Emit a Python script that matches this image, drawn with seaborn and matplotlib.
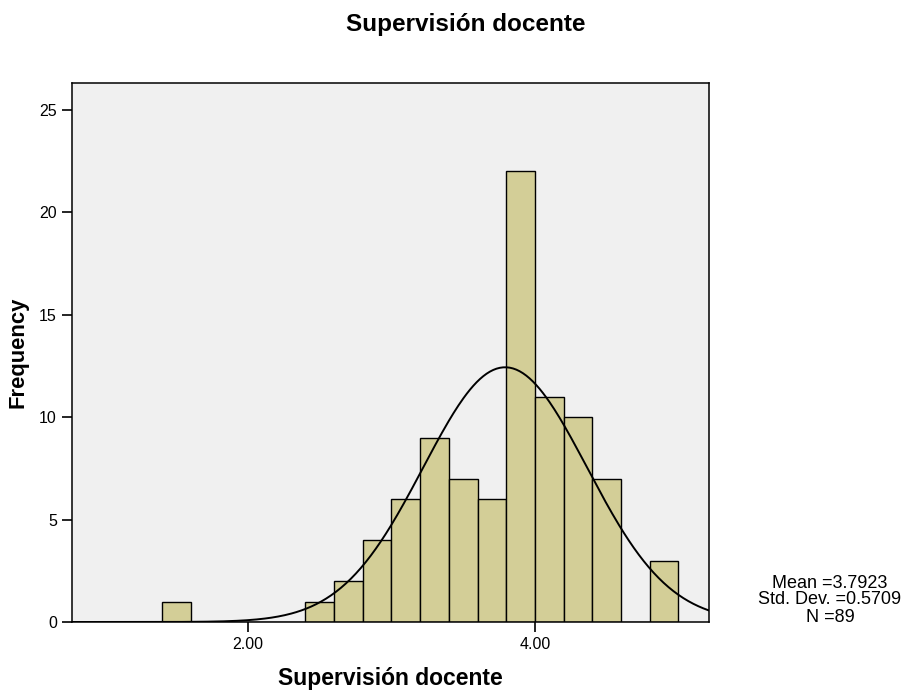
import numpy as np
import pandas as pd
import matplotlib
matplotlib.use("Agg")
import matplotlib.pyplot as plt
import seaborn as sns

# Data
bin_left = [1.4, 1.6, 1.8, 2.0, 2.2, 2.4, 2.6, 2.8, 3.0, 3.2, 3.4, 3.6, 3.8, 4.0, 4.2, 4.4, 4.6, 4.8]
counts   = [1,   0,   0,   0,   0,   1,   2,   4,   6,   9,   7,   6,   22,  11,  10,  7,   0,   3]
bin_width = 0.2
mean_val = 3.7923
sd_val = 0.5709
n_val = 89
x_ticks = [2.0, 4.0]
x_tick_labels = ["2.00", "4.00"]
y_ticks = [0, 5, 10, 15, 20, 25]

sns.set_style("white")
plt.rcParams['font.family'] = ['Liberation Sans', 'DejaVu Sans']
plt.rcParams['text.color'] = 'black'
plt.rcParams['axes.labelcolor'] = 'black'
plt.rcParams['xtick.color'] = 'black'
plt.rcParams['ytick.color'] = 'black'

W, H = 907, 698
L, R, T, B = 72, 709, 83, 622
fig = plt.figure(figsize=(W/100, H/100), dpi=100)
ax = fig.add_axes([L/W, 1 - B/H, (R-L)/W, (B-T)/H])
ax.set_facecolor('#F0F0F0')

df = pd.DataFrame({"mid": np.array(bin_left) + bin_width/2, "count": counts})
edges = list(bin_left) + [bin_left[-1] + bin_width]
sns.histplot(data=df, x="mid", weights="count", bins=edges, ax=ax,
             color='#D3CE97', alpha=1, edgecolor='black', linewidth=1.0)

xs = np.linspace(0.7, 5.3, 400)
ys = n_val * bin_width * np.exp(-0.5 * ((xs - mean_val) / sd_val) ** 2) / (sd_val * np.sqrt(2 * np.pi))
sns.lineplot(x=xs, y=ys, ax=ax, color='black', linewidth=1.4)

ax.set_xlim(0.774, 5.213)
ax.set_ylim(0, 26.32)
ax.set_xticks(x_ticks)
ax.set_xticklabels(x_tick_labels)
ax.set_yticks(y_ticks)
ax.tick_params(axis='both', direction='out', length=7.2, width=1.2, color='black',
               labelsize=11.5, pad=3.6, bottom=True, left=True, labelcolor='black')
for s in ax.spines.values():
    s.set_visible(True)
    s.set_color('black')
    s.set_linewidth(1.1)

ax.set_xlabel("Supervisión docente", fontsize=16.5, fontweight='bold', color='black')
ax.xaxis.set_label_coords(0.5, (B - 667) / (B - T))
ax.set_ylabel("Frequency", fontsize=15.8, fontweight='bold', color='black')
ax.yaxis.set_label_coords((29 - L) / (R - L), 0.5)
fig.text(466/W, 1 - 24/H, "Supervisión docente", ha='center', va='center',
         fontsize=17.5, fontweight='bold', color='black')
fig.text(830/W, 1 - 600/H, f"Mean ={mean_val:.4f}\nStd. Dev. ={sd_val:.4f}\nN ={n_val}",
         ha='center', va='center', fontsize=13, linespacing=1.0, color='black')

fig.savefig("out.png", dpi=100)
